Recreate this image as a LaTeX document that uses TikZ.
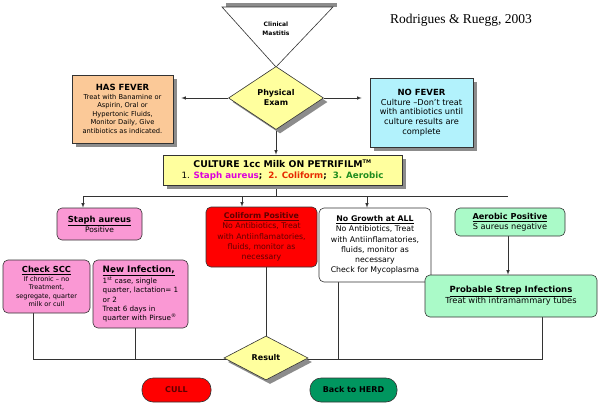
\documentclass[tikz,border=0pt]{standalone}
\usepackage{fontspec}
\setmainfont{DejaVu Sans}
\newfontfamily\citefont{Liberation Serif}
\usetikzlibrary{shapes,shadows,backgrounds}

\definecolor{feverfill}{RGB}{251,201,152}
\definecolor{nofeverfill}{RGB}{178,242,252}
\definecolor{yellowfill}{RGB}{255,255,158}
\definecolor{pinkfill}{RGB}{250,152,212}
\definecolor{greenfill}{RGB}{170,250,200}
\definecolor{herdfill}{RGB}{0,150,95}
\definecolor{staphcol}{RGB}{220,0,220}
\definecolor{colicol}{RGB}{230,40,0}
\definecolor{aerocol}{RGB}{30,140,30}
\definecolor{darkred}{RGB}{95,0,0}

\tikzset{
  box/.style={draw=black!80,align=center,inner sep=2pt,line width=0.6pt,font=\fontsize{7.5}{10}\selectfont},
  shadowed/.style={drop shadow={shadow xshift=4pt,shadow yshift=-4pt,fill=black!45,opacity=1}},
  roundbox/.style={box,rounded corners=5pt},
  decision/.style={shape=diamond,draw=black!80,fill=yellowfill,inner sep=0pt,align=center,line width=0.6pt,shadowed,font=\bfseries\fontsize{8}{10}\selectfont},
  pill/.style={draw=black!80,rounded corners=11pt,line width=0.6pt,font=\bfseries\fontsize{8}{9}\selectfont,minimum height=24pt},
  flow/.style={draw=black!80,line width=0.6pt},
}

\begin{document}
\begin{tikzpicture}[x=1pt,y=-1pt,>=latex]
\useasboundingbox (0,0) rectangle (600,405);

% start
\fill[black!45] (226,3) rectangle (337,7);
\coordinate (tl) at (222,7);
\coordinate (tr) at (333,7);
\coordinate (apex) at (276,67);
\draw[fill=white,draw=black!80,line width=0.6pt] (tl) -- (tr) -- (apex) -- cycle;
\node[align=center,font=\bfseries\fontsize{6}{9}\selectfont] (clin) at (276,29) {Clinical\\Mastitis};
\node[font=\citefont\fontsize{13.5}{15}\selectfont] (cite) at (461,20) {Rodrigues \& Ruegg, 2003};

\node[decision,minimum width=95pt,minimum height=63pt] (exam) at (276,98) {Physical\\Exam};

\node[box,shadowed,fill=feverfill,minimum width=101pt,minimum height=68pt,font=\fontsize{6.7}{8.5}\selectfont] (fever) at (122.5,109)
  {{\bfseries\fontsize{8.5}{11}\selectfont HAS FEVER}\\Treat with Banamine or\\Aspirin, Oral or\\Hypertonic Fluids,\\Monitor Daily, Give\\antibiotics as indicated.};
\node[box,shadowed,fill=nofeverfill,minimum width=103pt,minimum height=69pt,font=\fontsize{8.2}{9.8}\selectfont] (nofever) at (421.5,112.5)
  {{\bfseries\fontsize{8.5}{11}\selectfont NO FEVER}\\Culture --Don't treat\\with antibiotics until\\culture results are\\complete};

\node[box,shadowed,fill=yellowfill,minimum width=239pt,minimum height=30pt,font=\bfseries\fontsize{9.3}{11}\selectfont] (culture) at (282.5,170)
  {CULTURE 1cc Milk ON PETRIFILM\textsuperscript{\tiny TM}\\
  \fontsize{8.7}{11}\selectfont\mdseries 1. \bfseries\textcolor{staphcol}{Staph aureus}; \ \textcolor{colicol}{2. Coliform}; \ \textcolor{aerocol}{3. Aerobic}};

% culture results
\node[roundbox,fill=pinkfill,minimum width=85pt,minimum height=32pt,font=\fontsize{7.5}{10}\selectfont] (staph) at (99.5,224)
  {{\bfseries\fontsize{8.4}{10}\selectfont\underline{Staph aureus}}\\Positive};
\node[roundbox,fill=red,minimum width=111pt,minimum height=60pt,font=\fontsize{7.8}{10.3}\selectfont,text=darkred] (coliform) at (261.5,237)
  {{\bfseries\underline{Coliform Positive}}\\No Antibiotics, Treat\\with Antiinflamatories,\\fluids, monitor as\\necessary};
\node[roundbox,fill=white,minimum width=112pt,minimum height=74pt,font=\fontsize{7.8}{10.3}\selectfont] (nogrowth) at (375,245)
  {{\bfseries\underline{No Growth at ALL}}\\No Antibiotics, Treat\\with Antiinflamatories,\\fluids, monitor as\\necessary\\Check for Mycoplasma};
\node[roundbox,fill=greenfill,minimum width=110pt,minimum height=28pt,font=\fontsize{8.2}{9.5}\selectfont] (aerobic) at (510,222)
  {{\bfseries\underline{Aerobic Positive}}\\S aureus negative};
\node[roundbox,fill=greenfill,minimum width=172pt,minimum height=42pt,font=\fontsize{8.3}{11}\selectfont] (strep) at (511,296)
  {{\bfseries\fontsize{8.5}{11}\selectfont\underline{Probable Strep Infections}}\\Treat with intramammary tubes};
\node[roundbox,fill=pinkfill,minimum width=87pt,minimum height=53pt,font=\fontsize{6.5}{8.5}\selectfont] (scc) at (46.5,286.5)
  {{\bfseries\fontsize{8.3}{10}\selectfont\underline{Check SCC}}\\If chronic -- no\\Treatment,\\segregate, quarter\\milk or cull};
\node[roundbox,fill=pinkfill,minimum width=95pt,minimum height=68pt,align=left,inner sep=5pt,font=\fontsize{7.2}{9.3}\selectfont] (newinf) at (140.5,294)
  {{\bfseries\fontsize{8.8}{11}\selectfont\underline{New Infection,}}\\1\textsuperscript{st} case, single\\quarter, lactation= 1\\or 2\\Treat 6 days in\\quarter with Pirsue\textsuperscript{\textregistered}};

\node[decision,minimum width=84pt,minimum height=44pt] (result) at (266,358) {Result};

\node[pill,fill=red,minimum width=69pt,text=darkred] (cull) at (176.5,390) {CULL};
\node[pill,fill=herdfill,minimum width=87pt] (herd) at (353.5,390) {Back to HERD};

% connectors
\coordinate (split) at (276,196);
\coordinate (splitL) at (83,196);
\coordinate (splitR) at (508,196);
\coordinate (c2) at (242,196);
\coordinate (c3) at (367,196);
\coordinate (mergeL) at (33,359);
\coordinate (mergeR) at (542,359);
\coordinate (m2) at (135,359);
\coordinate (m4) at (338,359);

\begin{scope}[on background layer]
\draw[->,flow,shorten >=8pt] (exam.west) -- (exam.west -| fever.east);
\draw[->,flow,shorten >=8pt] (exam.east) -- (exam.east -| nofever.west);
\draw[->,flow] (exam.south) -- (exam.south |- culture.north);
\draw[flow] (split |- culture.south) -- (split);
\draw[flow] (splitL) -- (splitR);
\draw[->,flow] (splitL) -- (splitL |- staph.north);
\draw[->,flow] (c2) -- (c2 |- coliform.north);
\draw[->,flow] (c3) -- (c3 |- nogrowth.north);
\draw[->,flow] (aerobic.south -| splitR) -- (splitR |- strep.north);
\draw[flow] (mergeL |- scc.south) -- (mergeL) -- (mergeR) -- (mergeR |- strep.south);
\draw[flow] (m2 |- newinf.south) -- (m2);
\draw[flow] (m4 |- nogrowth.south) -- (m4);
\draw[flow] (result.north |- coliform.south) -- (result.north);
\end{scope}
\end{tikzpicture}
\end{document}
